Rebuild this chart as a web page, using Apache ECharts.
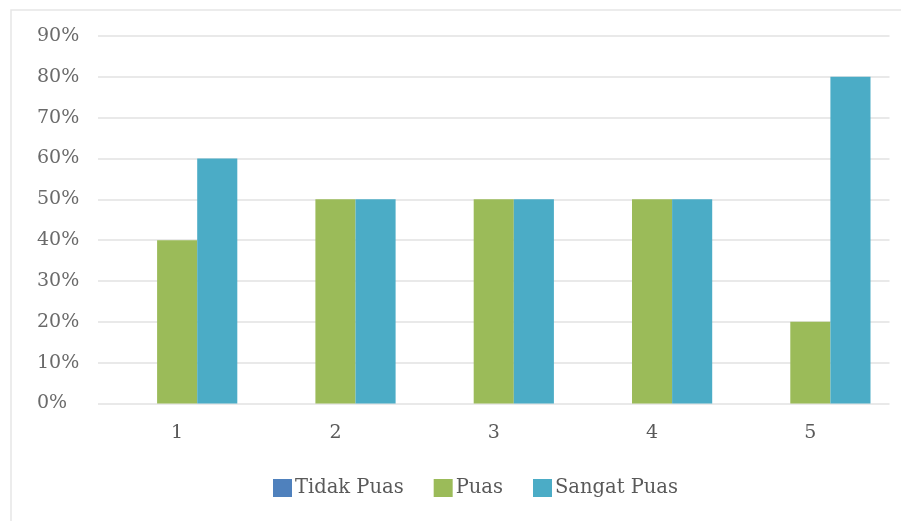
<!DOCTYPE html>
<html>
<head>
<meta charset="utf-8">
<script src="https://cdn.jsdelivr.net/npm/echarts@6/dist/echarts.min.js"></script>
<style>
html,body{margin:0;padding:0;background:#fff;}
#chart{width:901px;height:521px;}
</style>
</head>
<body>
<div id="chart"></div>
<script>
const categories = ['1', '2', '3', '4', '5'];
const seriesNames = ['Tidak Puas', 'Puas', 'Sangat Puas'];
const tidakPuas = [0, 0, 0, 0, 0];
const puas = [0.40, 0.50, 0.50, 0.50, 0.20];
const sangatPuas = [0.60, 0.50, 0.50, 0.50, 0.80];
const colors = ['#4F81BD', '#9BBB59', '#4BACC6'];

const chart = echarts.init(document.getElementById('chart'), null, {renderer: 'canvas'});
const font = 'DejaVu Serif';
chart.setOption({
  animation: false,
  backgroundColor: '#fff',
  color: colors,
  graphic: [{
    type: 'rect',
    shape: {x: 11, y: 10, width: 900, height: 520},
    style: {fill: 'none', stroke: '#e6e6e6', lineWidth: 1.5},
    silent: true, z: -10
  }],
  grid: {left: 98, right: 11.5, top: 36, bottom: 117.5},
  legend: {
    data: seriesNames,
    left: 268, top: 473,
    itemWidth: 19, itemHeight: 18, itemGap: 30,
    icon: 'rect',
    textStyle: {fontFamily: font, fontSize: 19.5, color: '#595959', padding: [0, 0, 0, -2]}
  },
  xAxis: {
    type: 'category',
    data: categories,
    axisLine: {show: false},
    axisTick: {show: false},
    axisLabel: {fontFamily: font, fontSize: 19, color: '#595959', margin: 20}
  },
  yAxis: {
    type: 'value',
    min: 0, max: 0.9, interval: 0.1,
    axisLine: {show: false},
    axisTick: {show: false},
    splitLine: {lineStyle: {color: '#e2e2e2', width: 1.5}},
    axisLabel: {
      fontFamily: font, fontSize: 19, color: '#6a6a6a', margin: 61, align: 'left',
      formatter: v => Math.round(v * 100) + '%'
    }
  },
  series: [
    {name: seriesNames[0], type: 'bar', data: tidakPuas, barGap: '0%', barCategoryGap: '24%'},
    {name: seriesNames[1], type: 'bar', data: puas, barGap: '0%', barCategoryGap: '24%'},
    {name: seriesNames[2], type: 'bar', data: sangatPuas, barGap: '0%', barCategoryGap: '24%'}
  ]
});
</script>
</body>
</html>
